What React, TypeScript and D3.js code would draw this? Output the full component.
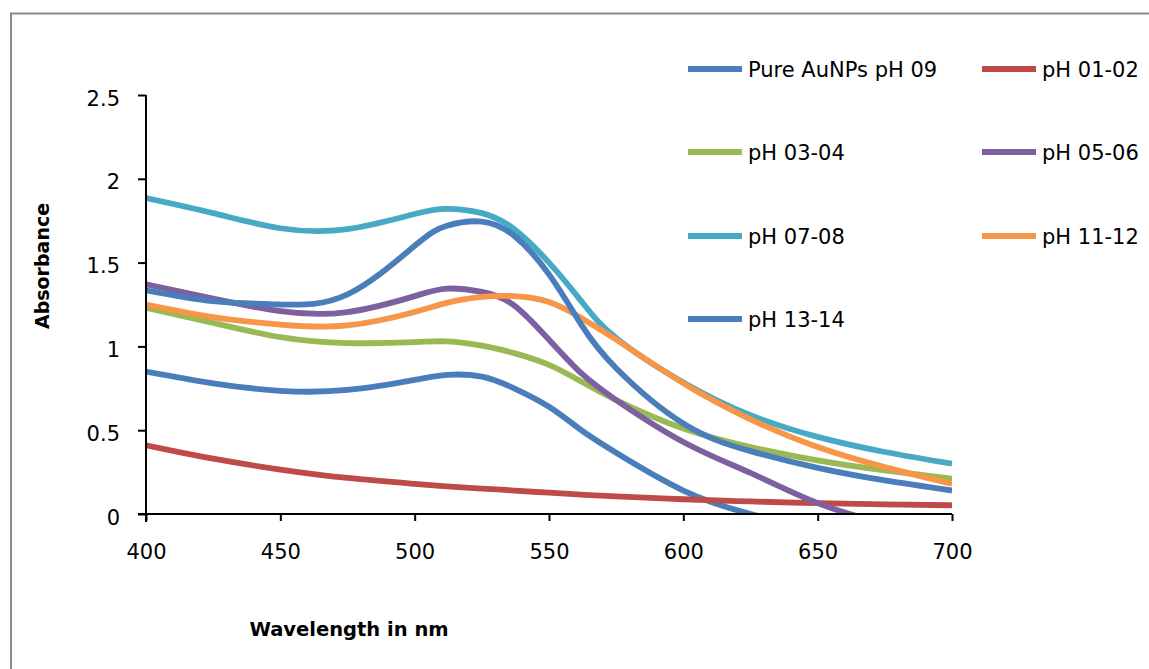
import React, { Component } from 'react';
import * as d3 from 'd3';

// wavelength samples (nm)
const wavelengths = [400, 425, 450, 475, 500, 512, 525, 537, 550, 562, 575, 600, 625, 650, 675, 700];

const pureAuNPs = [0.85, 0.78, 0.735, 0.74, 0.80, 0.83, 0.82, 0.75, 0.64, 0.50, 0.365, 0.14, 0.0, -0.10, -0.20, -0.28];
const ph0102 = [0.41, 0.33, 0.265, 0.215, 0.18, 0.165, 0.152, 0.14, 0.127, 0.115, 0.105, 0.088, 0.075, 0.065, 0.058, 0.052];
const ph0304 = [1.23, 1.14, 1.055, 1.02, 1.025, 1.03, 1.005, 0.96, 0.89, 0.79, 0.68, 0.51, 0.40, 0.32, 0.26, 0.21];
const ph0506 = [1.37, 1.285, 1.21, 1.205, 1.30, 1.345, 1.325, 1.245, 1.04, 0.84, 0.68, 0.43, 0.245, 0.065, -0.06, -0.17];
const ph0708 = [1.885, 1.795, 1.705, 1.70, 1.79, 1.82, 1.795, 1.70, 1.50, 1.27, 1.05, 0.785, 0.59, 0.46, 0.37, 0.30];
const ph1112 = [1.25, 1.175, 1.13, 1.125, 1.205, 1.26, 1.295, 1.30, 1.265, 1.17, 1.04, 0.78, 0.565, 0.40, 0.28, 0.18];
const ph1314 = [1.335, 1.27, 1.25, 1.31, 1.60, 1.72, 1.745, 1.66, 1.43, 1.13, 0.87, 0.54, 0.375, 0.275, 0.20, 0.14];

const seriesNames = ["Pure AuNPs pH 09", "pH 01-02", "pH 03-04", "pH 05-06", "pH 07-08", "pH 11-12", "pH 13-14"];
const seriesValues = [pureAuNPs, ph0102, ph0304, ph0506, ph0708, ph1112, ph1314];
const seriesColors = ["#4a7ebb", "#be4b48", "#98b954", "#7d60a0", "#46aac5", "#f79646", "#4a7ebb"];

const xTicks = [400, 450, 500, 550, 600, 650, 700];
const yTicks = [0, 0.5, 1, 1.5, 2, 2.5];

class App extends Component {
  chartRef: any;

  componentDidMount() {
    this.drawChart();
  }

  drawChart() {
    const width = 1149;
    const height = 669;
    const left = 146;
    const right = 952;
    const top = 95;
    const bottom = 514;
    const font = "'DejaVu Sans', sans-serif";

    const svg = d3.select(this.chartRef);
    svg.selectAll('*').remove();
    svg.attr("width", width).attr("height", height);

    // outer chart border
    svg.append("path")
      .attr("d", `M11,${height} L11,13.5 L${width},13.5`)
      .attr("fill", "none")
      .attr("stroke", "#8a8a8a")
      .attr("stroke-width", 2);

    const x = d3.scaleLinear().domain([400, 700]).range([left, right]);
    const y = d3.scaleLinear().domain([0, 2.5]).range([bottom, top]);

    svg.append("defs").append("clipPath")
      .attr("id", "plotclip")
      .append("rect")
      .attr("x", left)
      .attr("y", top - 10)
      .attr("width", right - left)
      .attr("height", bottom - top + 10);

    const line = d3.line<number>()
      .curve(d3.curveNatural)
      .x((d, i) => x(wavelengths[i]))
      .y(d => y(d));

    const plot = svg.append("g").attr("clip-path", "url(#plotclip)");
    seriesValues.forEach((vals, i) => {
      plot.append("path")
        .datum(vals)
        .attr("fill", "none")
        .attr("stroke", seriesColors[i])
        .attr("stroke-width", 5.8)
        .attr("stroke-linejoin", "round")
        .attr("d", line);
    });

    // y axis
    const yAxis = svg.append("g")
      .attr("transform", `translate(${left},0)`)
      .call(d3.axisLeft(y).tickValues(yTicks).tickSize(8).tickSizeOuter(0).tickFormat(d3.format("")));
    yAxis.select(".domain").attr("stroke", "#000").attr("stroke-width", 2)
      .attr("d", `M0,${top}V${bottom + 8}`);
    yAxis.selectAll(".tick line").attr("stroke", "#000").attr("stroke-width", 2);
    yAxis.selectAll(".tick text")
      .attr("x", -26)
      .attr("dy", "0.62em")
      .attr("y", -3)
      .attr("font-family", font)
      .attr("font-size", 21)
      .attr("fill", "#000");

    // x axis
    const xAxis = svg.append("g")
      .attr("transform", `translate(0,${bottom})`)
      .call(d3.axisBottom(x).tickValues(xTicks).tickSize(7).tickSizeOuter(0));
    xAxis.select(".domain").attr("stroke", "#000").attr("stroke-width", 2)
      .attr("d", `M${left - 8},0H${right}`);
    xAxis.selectAll(".tick line").attr("stroke", "#000").attr("stroke-width", 2);
    xAxis.selectAll(".tick text")
      .attr("y", 30)
      .attr("dy", "0.71em")
      .attr("font-family", font)
      .attr("font-size", 21)
      .attr("fill", "#000");

    // axis titles
    svg.append("text")
      .attr("x", 349)
      .attr("y", 636)
      .attr("text-anchor", "middle")
      .attr("font-family", font)
      .attr("font-weight", "bold")
      .attr("font-size", 19.5)
      .text("Wavelength in nm");

    svg.append("text")
      .attr("transform", "translate(49,266) rotate(-90)")
      .attr("text-anchor", "middle")
      .attr("font-family", font)
      .attr("font-weight", "bold")
      .attr("font-size", 19)
      .text("Absorbance");

    // legend, two columns
    const colX = [688, 982];
    const rowY = [69, 152, 236, 319];
    const legend = svg.append("g");
    seriesNames.forEach((name, i) => {
      const lx = colX[i % 2];
      const ly = rowY[Math.floor(i / 2)];
      legend.append("line")
        .attr("x1", lx).attr("x2", lx + 54)
        .attr("y1", ly).attr("y2", ly)
        .attr("stroke", seriesColors[i])
        .attr("stroke-width", 6);
      legend.append("text")
        .attr("x", lx + 60)
        .attr("y", ly + 7.5)
        .attr("font-family", font)
        .attr("font-size", 21)
        .attr("fill", "#000")
        .text(name);
    });
  }

  render() {
    return (
      <svg ref={ref => this.chartRef = ref} style={{ position: "absolute", left: 0, top: 0, background: "#fff" }}></svg>
    );
  }
}

export default App;
